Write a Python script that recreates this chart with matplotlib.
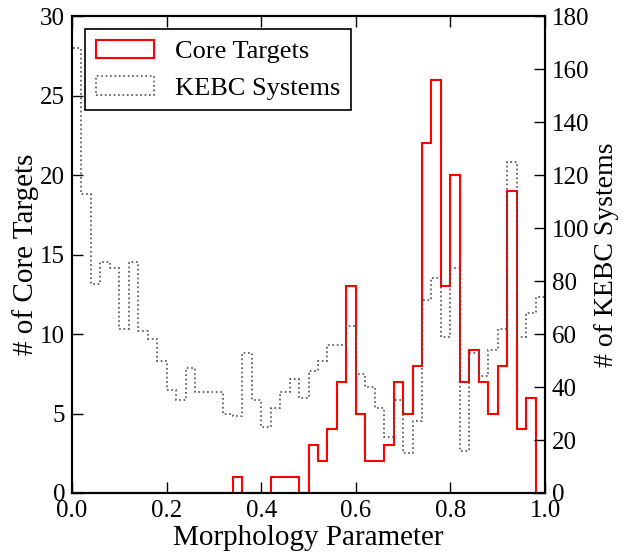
import matplotlib
matplotlib.use("Agg")
import matplotlib.pyplot as plt
import numpy as np

plt.rcParams['font.family'] = ['Liberation Serif', 'DejaVu Serif']
plt.rcParams['mathtext.fontset'] = 'stix'

# histogram bins: 50 bins of width 0.02 on [0, 1]
bin_edges = np.linspace(0.0, 1.0, 51)
bin_centers = 0.5 * (bin_edges[:-1] + bin_edges[1:])

core_counts = [0, 0, 0, 0, 0, 0, 0, 0, 0, 0,
               0, 0, 0, 0, 0, 0, 0, 1, 0, 0,
               0, 1, 1, 1, 0, 3, 2, 4, 7, 13,
               5, 2, 2, 3, 7, 5, 8, 22, 26, 13,
               20, 7, 9, 7, 5, 8, 19, 4, 6, 0]

kebc_counts = [168, 113, 79, 87, 85, 62, 87, 61, 58, 50,
               39, 35, 47, 38, 38, 38, 30, 29, 53, 35,
               25, 32, 38, 43, 36, 46, 50, 56, 56, 63,
               45, 40, 32, 21, 35, 15, 27, 73, 81, 59,
               85, 16, 53, 44, 54, 62, 125, 59, 68, 74]

x_ticks = [0.0, 0.2, 0.4, 0.6, 0.8, 1.0]
left_ticks = [0, 5, 10, 15, 20, 25, 30]
right_ticks = [0, 20, 40, 60, 80, 100, 120, 140, 160, 180]


def style_axis(ax):
    ax.tick_params(direction='in', length=8, width=1, labelsize=18, pad=5)
    for sp in ax.spines.values():
        sp.set_linewidth(1.5)


fig, ax = plt.subplots(figsize=(6.23, 5.53), dpi=100)
fig.subplots_adjust(left=0.1156, right=0.8748, bottom=0.1085, top=0.971)
ax2 = ax.twinx()

h1 = ax.hist(bin_centers, bins=bin_edges, weights=core_counts,
             histtype='step', color='red', linewidth=1.5,
             label='Core Targets')
h2 = ax2.hist(bin_centers, bins=bin_edges, weights=kebc_counts,
              histtype='step', color='0.3', linewidth=1.2,
              linestyle=':', label='KEBC Systems')

ax.set_xlim(0, 1)
ax.set_ylim(0, 30)
ax2.set_ylim(0, 180)
ax.set_xticks(x_ticks)
ax.set_xticklabels(["%.1f" % t for t in x_ticks])
ax.set_yticks(left_ticks)
ax2.set_yticks(right_ticks)

style_axis(ax)
style_axis(ax2)
ax.tick_params(top=True, right=False)
ax2.tick_params(left=False, right=True)

ax.set_xlabel("Morphology Parameter", fontsize=21, labelpad=2.5)
ax.set_ylabel("# of Core Targets", fontsize=21, labelpad=1)
ax2.set_ylabel("# of KEBC Systems", fontsize=20, labelpad=3)

handles = [h1[2][0], h2[2][0]]
labels = ['Core Targets', 'KEBC Systems']
leg = ax.legend(handles, labels, loc='upper left', fontsize=19,
                fancybox=False, framealpha=1, edgecolor='black',
                borderaxespad=0.5, handlelength=2.2, handletextpad=0.8)
leg.get_frame().set_linewidth(1.2)

fig.savefig("out.png", dpi=100)
